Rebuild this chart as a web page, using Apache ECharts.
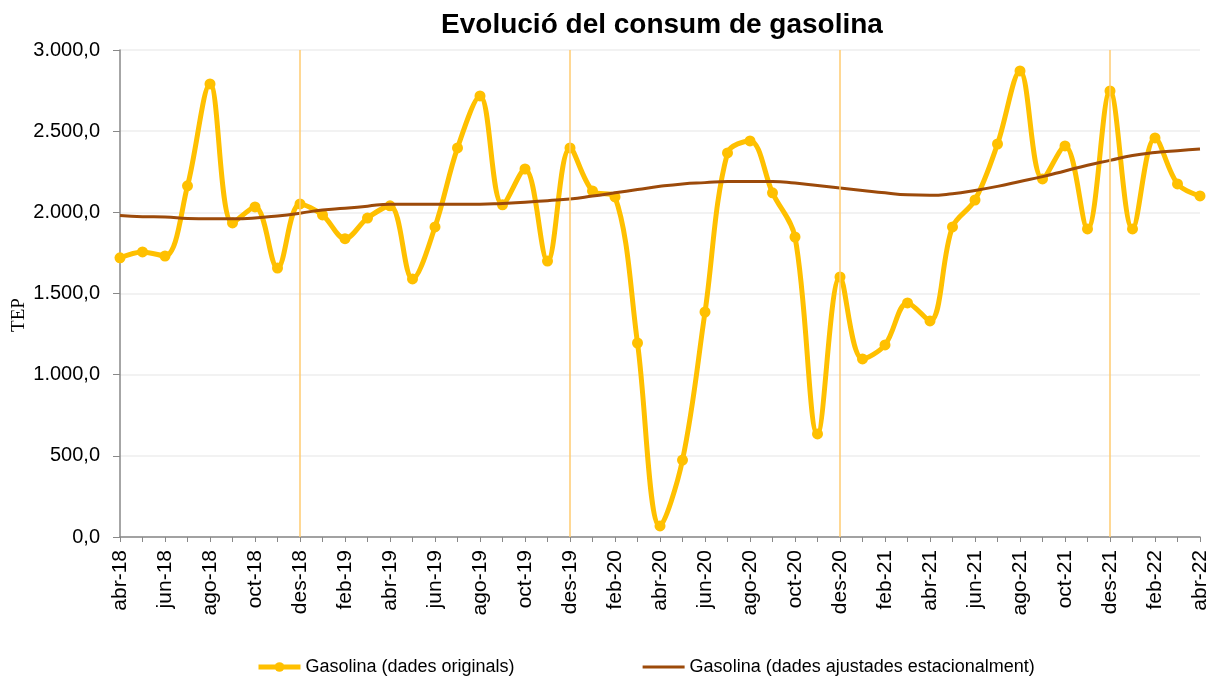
<!DOCTYPE html>
<html>
<head>
<meta charset="utf-8">
<script src="https://cdn.jsdelivr.net/npm/echarts@6/dist/echarts.min.js"></script>
<style>
  html, body { margin: 0; padding: 0; background: #fff; }
  #main { width: 1222px; height: 683px; }
</style>
</head>
<body>
<div id="main"></div>
<script>
// mesos (abr-18 .. abr-22)
var months = ['abr-18','mai-18','jun-18','jul-18','ago-18','set-18','oct-18','nov-18','des-18',
  'gen-19','feb-19','mar-19','abr-19','mai-19','jun-19','jul-19','ago-19','set-19','oct-19','nov-19','des-19',
  'gen-20','feb-20','mar-20','abr-20','mai-20','jun-20','jul-20','ago-20','set-20','oct-20','nov-20','des-20',
  'gen-21','feb-21','mar-21','abr-21','mai-21','jun-21','jul-21','ago-21','set-21','oct-21','nov-21','des-21',
  'gen-22','feb-22','mar-22','abr-22']

// dades originals
var originals = [1720, 1756, 1731, 2163, 2791, 1935, 2033, 1657, 2052,
  1984, 1838, 1965, 2040, 1590, 1910, 2397, 2717, 2046, 2267, 1700, 2397,
  2132, 2095, 1195, 68, 474, 1386, 2366, 2440, 2120, 1848, 635, 1602,
  1097, 1183, 1442, 1331, 1910, 2076, 2421, 2871, 2206, 2409, 1898, 2748,
  1898, 2458, 2175, 2101]

// dades ajustades estacionalment
var ajustades = [1980, 1973, 1972, 1962, 1960, 1960, 1965, 1978, 1995,
  2015, 2025, 2038, 2050, 2050, 2050, 2050, 2050, 2055, 2062, 2072, 2082,
  2100, 2120, 2140, 2160, 2175, 2183, 2190, 2190, 2190, 2180, 2165, 2150,
  2135, 2120, 2108, 2105, 2115, 2135, 2160, 2190, 2220, 2255, 2290, 2320,
  2350, 2368, 2380, 2390]

// línies verticals de final d'any
var yearMarks = ['des-18', 'des-19', 'des-20', 'des-21']

function fmt(v) {
  var s = Math.round(v).toString().replace(/\B(?=(\d{3})+(?!\d))/g, '.')
  return s + ',0'
}

var chart = echarts.init(document.getElementById('main'))
chart.setOption({
  animation: false,
  title: {
    text: 'Evolució del consum de gasolina',
    left: 657,
    textAlign: 'center',
    top: 6,
    textStyle: { fontFamily: 'Liberation Sans', fontSize: 28, fontWeight: 'bold', color: '#000' }
  },
  legend: {
    top: 653,
    left: 251,
    itemWidth: 42,
    itemHeight: 12,
    itemGap: 128,
    textStyle: { fontFamily: 'Liberation Sans', fontSize: 18, color: '#000' },
    data: [
      { name: 'Gasolina (dades originals)', lineStyle: { width: 5 } },
      {
        name: 'Gasolina (dades ajustades estacionalment)',
        icon: 'path://M0,0 L42,0 L42,3 L0,3 Z',
        itemStyle: { color: '#9C4A0A', opacity: 1 }
      }
    ]
  },
  graphic: [{
    type: 'text',
    x: 19,
    y: 315,
    rotation: Math.PI / 2,
    style: {
      text: 'TEP',
      font: '19px "Liberation Serif"',
      fill: '#000',
      textAlign: 'center',
      textVerticalAlign: 'middle'
    }
  }],
  grid: { left: 120, right: 22, top: 50, bottom: 146 },
  xAxis: {
    type: 'category',
    data: months,
    boundaryGap: false,
    axisLine: { lineStyle: { color: '#888', width: 1.5 } },
    axisTick: { show: true, interval: 0, length: 5, lineStyle: { color: '#888' } },
    axisLabel: {
      interval: 1,
      rotate: 90,
      margin: 13,
      fontFamily: 'Liberation Sans',
      fontSize: 21,
      color: '#000'
    },
    splitLine: { show: false }
  },
  yAxis: {
    type: 'value',
    min: 0,
    max: 3000,
    interval: 500,
    axisLine: { show: true, lineStyle: { color: '#888', width: 1.5 } },
    axisTick: { show: true, length: 7, lineStyle: { color: '#888' } },
    axisLabel: {
      formatter: fmt,
      margin: 20,
      fontFamily: 'Liberation Sans',
      fontSize: 20,
      color: '#000'
    },
    splitLine: { lineStyle: { color: '#eeeeee', width: 1.5 } }
  },
  series: [{
    name: 'Gasolina (dades originals)',
    type: 'line',
    data: originals,
    smooth: 0.35,
    symbol: 'circle',
    symbolSize: 11,
    lineStyle: { color: '#FFC000', width: 5 },
    itemStyle: { color: '#FFC000' },
    markLine: {
      silent: true,
      symbol: 'none',
      label: { show: false },
      lineStyle: { color: '#FFCB70', width: 1.5, type: 'solid' },
      data: yearMarks.map(function (m) { return { xAxis: m } })
    },
    z: 3
  }, {
    name: 'Gasolina (dades ajustades estacionalment)',
    type: 'line',
    data: ajustades,
    smooth: true,
    showSymbol: false,
    lineStyle: { color: '#9C4A0A', width: 3 },
    itemStyle: { color: '#9C4A0A' },
    z: 4
  }]
})
</script>
</body>
</html>
